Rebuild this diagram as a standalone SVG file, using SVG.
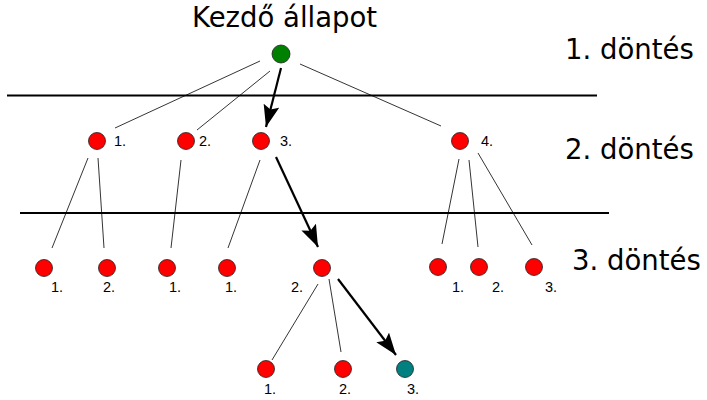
<svg xmlns="http://www.w3.org/2000/svg" width="707" height="400" viewBox="0 0 707 400">
<style>
.bg{fill:#fff}
.n{stroke:#222;stroke-width:0.8}
.red{fill:#ff0000}
.green{fill:#008000}
.teal{fill:#008080}
.thin{stroke:#000;stroke-width:0.8;fill:none}
.arr{stroke:#000;stroke-width:2.2;fill:none;marker-end:url(#ah)}
.sep{stroke:#000;stroke-width:2.2}
.lbl{font-family:"Liberation Sans",Arial,sans-serif;font-size:14.5px;fill:#000}
.big{font-family:"DejaVu Sans",Verdana,sans-serif;font-size:27.5px;fill:#000}
</style>
<defs>
<marker id="ah" viewBox="0 0 22 16" refX="22" refY="8" markerWidth="22" markerHeight="16" markerUnits="userSpaceOnUse" orient="auto">
<path d="M0,0 L22,8 L0,16 L4,8 z" fill="#000"/>
</marker>
</defs>
<rect class="bg" x="0" y="0" width="707" height="400"/>
<g id="separators">
<line class="sep" x1="7" y1="95.5" x2="597" y2="95.5"/>
<line class="sep" x1="20" y1="213" x2="609" y2="213"/>
</g>
<g id="levels">
<text class="big" x="192" y="27">Kezdő állapot</text>
<text class="big" x="565" y="59">1. döntés</text>
<text class="big" x="565" y="159">2. döntés</text>
<text class="big" x="572" y="270">3. döntés</text>
</g>
<g id="connectors">
<line class="thin" x1="260" y1="61" x2="115" y2="128"/>
<line class="thin" x1="270" y1="71" x2="197" y2="130"/>
<line class="arr" x1="281" y1="68" x2="266" y2="127"/>
<line class="thin" x1="300" y1="64" x2="441" y2="126"/>
<line class="thin" x1="88" y1="158" x2="52" y2="248"/>
<line class="thin" x1="98" y1="158" x2="104" y2="248"/>
<line class="thin" x1="181" y1="160" x2="171" y2="248"/>
<line class="thin" x1="260" y1="160" x2="228" y2="248"/>
<line class="arr" x1="276" y1="157" x2="318" y2="247"/>
<line class="thin" x1="459" y1="159" x2="442" y2="244"/>
<line class="thin" x1="469" y1="160" x2="478" y2="247"/>
<line class="thin" x1="478" y1="153" x2="532" y2="245"/>
<line class="thin" x1="318" y1="284" x2="272" y2="360"/>
<line class="thin" x1="329" y1="279" x2="341" y2="352"/>
<line class="arr" x1="338" y1="279" x2="396" y2="355"/>
</g>
<g id="root"><circle class="n green" cx="281" cy="54" r="9"/></g>
<g id="n2-1"><circle class="n red" cx="97" cy="141" r="8.5"/><text class="lbl" x="114" y="146">1.</text></g>
<g id="n2-2"><circle class="n red" cx="186" cy="141" r="8.5"/><text class="lbl" x="199" y="146">2.</text></g>
<g id="n2-3"><circle class="n red" cx="261" cy="141" r="8.5"/><text class="lbl" x="280" y="146">3.</text></g>
<g id="n2-4"><circle class="n red" cx="460" cy="141" r="8.5"/><text class="lbl" x="481" y="146">4.</text></g>
<g id="n3-1"><circle class="n red" cx="44" cy="268" r="8.5"/><text class="lbl" x="51" y="292">1.</text></g>
<g id="n3-2"><circle class="n red" cx="107" cy="268" r="8.5"/><text class="lbl" x="103" y="292">2.</text></g>
<g id="n3-3"><circle class="n red" cx="167" cy="268" r="8.5"/><text class="lbl" x="169" y="292">1.</text></g>
<g id="n3-4"><circle class="n red" cx="227" cy="268" r="8.5"/><text class="lbl" x="225" y="292">1.</text></g>
<g id="n3-5"><circle class="n red" cx="322" cy="268" r="8.5"/><text class="lbl" x="291" y="292">2.</text></g>
<g id="n3-6"><circle class="n red" cx="438" cy="267" r="8.5"/><text class="lbl" x="452" y="292">1.</text></g>
<g id="n3-7"><circle class="n red" cx="479" cy="267" r="8.5"/><text class="lbl" x="492" y="292">2.</text></g>
<g id="n3-8"><circle class="n red" cx="534" cy="267" r="8.5"/><text class="lbl" x="545" y="292">3.</text></g>
<g id="n4-1"><circle class="n red" cx="266" cy="369" r="8.5"/><text class="lbl" x="264" y="394">1.</text></g>
<g id="n4-2"><circle class="n red" cx="343" cy="369" r="8.5"/><text class="lbl" x="339" y="394">2.</text></g>
<g id="n4-3"><circle class="n teal" cx="405" cy="369" r="8.5"/><text class="lbl" x="407" y="394">3.</text></g>
</svg>
